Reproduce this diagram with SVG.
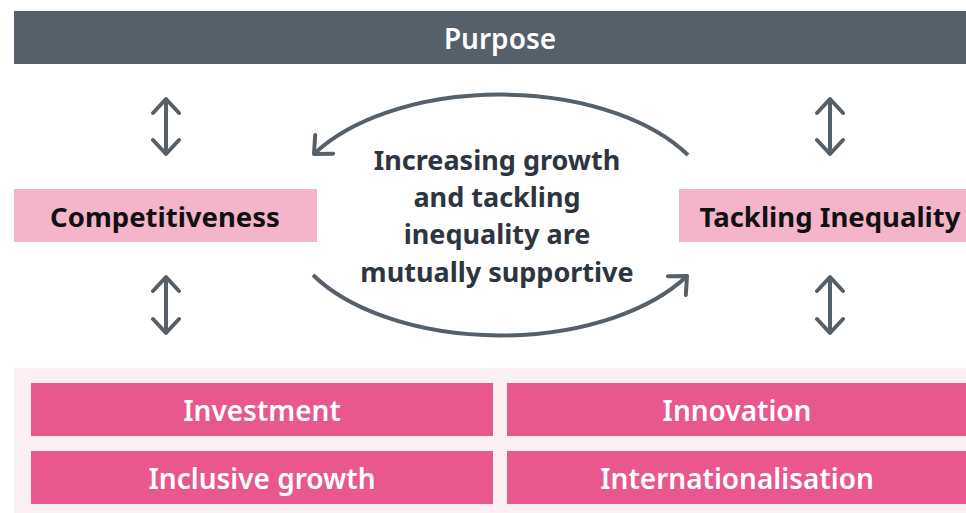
<svg xmlns="http://www.w3.org/2000/svg" width="966" height="513" viewBox="0 0 966 513">
<defs>
<style>
.t{font-family:"Noto Sans","Open Sans","Liberation Sans",sans-serif;font-weight:bold;text-anchor:middle}
.s{font-weight:600}
.w{fill:#ffffff}
.k{fill:#111111}
.c{fill:#2d3640}
.pk{fill:#f4b5cb}
.mg{fill:#e9578f}
.ln{fill:none;stroke:#56606b;stroke-width:4}
</style>
<marker id="ah" viewBox="0 0 30 30" refX="20" refY="15" markerWidth="30" markerHeight="30" markerUnits="userSpaceOnUse" orient="auto-start-reverse">
<path d="M6 2 L20 15 L6 28" fill="none" stroke="#56606b" stroke-width="4" stroke-linecap="round" stroke-linejoin="round"/>
</marker>
</defs>
<rect width="966" height="513" fill="#ffffff"/>
<g id="purpose">
<rect x="14" y="11" width="952" height="53" fill="#56606b"/>
<text class="t s w" x="500" y="49" font-size="28">Purpose</text>
</g>
<g id="competitiveness">
<rect class="pk" x="14" y="189" width="303" height="53"/>
<text class="t k" x="165" y="227" font-size="27.5">Competitiveness</text>
</g>
<g id="tackling">
<rect class="pk" x="679" y="189" width="287" height="53"/>
<text class="t k" x="830" y="227" font-size="27.5">Tackling Inequality</text>
</g>
<g id="centre">
<text class="t c" x="497" y="170" font-size="27">Increasing growth</text>
<text class="t c" x="497" y="207" font-size="27">and tackling</text>
<text class="t c" x="497" y="244" font-size="27">inequality are</text>
<text class="t c" x="497" y="282" font-size="27">mutually supportive</text>
</g>
<g id="panel">
<rect x="14" y="368" width="952" height="145" fill="#fdf0f5"/>
</g>
<g id="investment">
<rect class="mg" x="31" y="383" width="462" height="53"/>
<text class="t s w" x="262" y="421" font-size="28">Investment</text>
</g>
<g id="innovation">
<rect class="mg" x="507" y="383" width="459" height="53"/>
<text class="t s w" x="737" y="421" font-size="28">Innovation</text>
</g>
<g id="inclusive">
<rect class="mg" x="31" y="451" width="462" height="53"/>
<text class="t s w" x="262" y="489" font-size="28">Inclusive growth</text>
</g>
<g id="internationalisation">
<rect class="mg" x="507" y="451" width="459" height="53"/>
<text class="t s w" x="737" y="489" font-size="28">Internationalisation</text>
</g>
<g id="connectors">
<path class="ln" d="M166 99 V154" marker-start="url(#ah)" marker-end="url(#ah)"/>
<path class="ln" d="M830 99 V154" marker-start="url(#ah)" marker-end="url(#ah)"/>
<path class="ln" d="M166 277 V333" marker-start="url(#ah)" marker-end="url(#ah)"/>
<path class="ln" d="M830 277 V333" marker-start="url(#ah)" marker-end="url(#ah)"/>
<path class="ln" d="M688 155 A216 120 0 0 0 314 154" marker-end="url(#ah)"/>
<path class="ln" d="M313 275 A216 120 0 0 0 687 276" marker-end="url(#ah)"/>
</g>
</svg>
